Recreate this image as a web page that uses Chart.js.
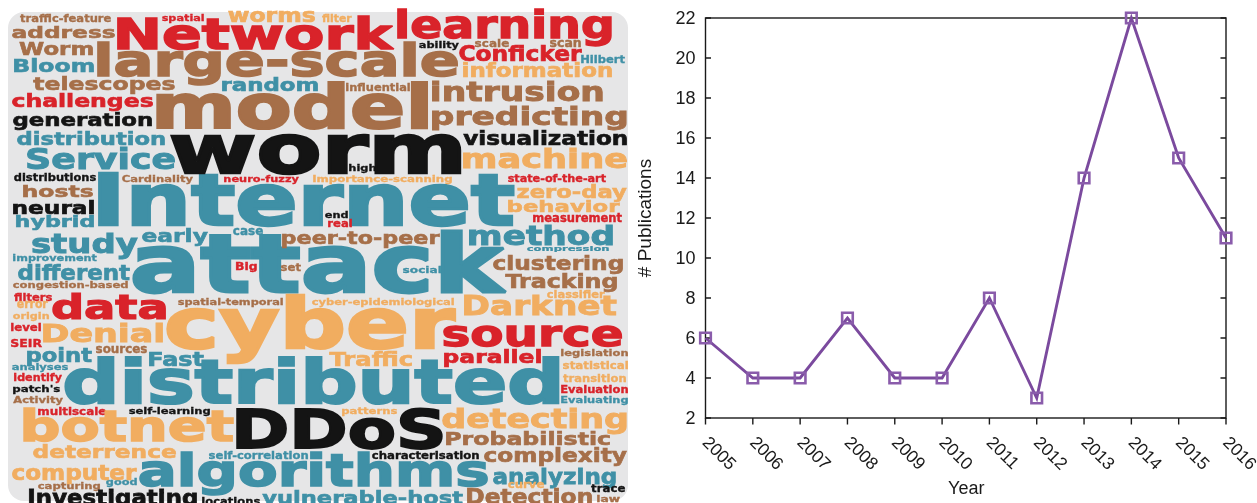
<!DOCTYPE html>
<html><head><meta charset="utf-8">
<script src="https://cdn.jsdelivr.net/npm/chart.js@4"></script>
<style>
html,body{margin:0;padding:0;background:#fff;overflow:hidden;width:1257px;height:503px}
#cloudBox{position:absolute;left:0;top:0;width:630px;height:503px}
#lineBox{position:absolute;left:630px;top:0;width:627px;height:503px}
canvas{filter:blur(0.45px)}
</style></head><body>
<div id="cloudBox"><canvas id="cloud"></canvas></div>
<div id="lineBox"><canvas id="line"></canvas></div>
<script>
// Line chart data
const years = ['2005','2006','2007','2008','2009','2010','2011','2012','2013','2014','2015','2016'];
const publications = [6,4,4,7,4,4,8,3,14,22,15,11];
const axisTitleX = 'Year';
const axisTitleY = '# Publications';

// Word cloud terms, grouped by colour
const tealWords = ['Bloom','random','distribution','Service','Internet','hybrid','study','early','case','method','compression','attack','improvement','different','social','point','Fast','analyses','distributed','Evaluating','self-correlation','algorithms','analyzing','good','vulnerable-host','Hilbert'];
const brownWords = ['traffic-feature','address','Worm','large-scale','scale','scan','telescopes','model','influential','intrusion','predicting','Cardinality','hosts','peer-to-peer','set','clustering','Tracking','congestion-based','spatial-temporal','sources','legislation','Activity','Probabilistic','complexity','capturing','Detection','law'];
const redWords = ['spatial','Network','learning','Conficker','challenges','neuro-fuzzy','state-of-the-art','measurement','real','Big','filters','data','level','source','SEIR','parallel','identify','Evaluation','multiscale'];
const orangeWords = ['worms','filter','information','machine','Importance-scanning','zero-day','behavior','classifier','error','cyber-epidemiological','Darknet','origin','cyber','Denial','Traffic','statistical','transition','patterns','botnet','detecting','deterrence','computer','curve'];
const blackWords = ['ability','generation','worm','visualization','high','distributions','neural','end','patch\'s','self-learning','DDoS','characterisation','trace','Investigating','locations'];

// Layout of the cloud: word -> left, top, right, bottom of its ink
const cloudLayout = {
 'traffic-feature':[20,14,111,22],'spatial':[162,14,204,23],'worms':[228,11,315,23],'address':[12,26,115,39],
 'Network':[117,15,395,50],'Worm':[19,42,93,55],'Bloom':[14,58,94,72],'large-scale':[97,42,458,87],
 'learning':[397,10,612,47],'filter':[322,14,352,22],'ability':[419,41,459,50],'scale':[475,39,509,47],
 'scan':[550,39,581,47],'Conficker':[459,45,582,62],'Hilbert':[581,55,625,63],'information':[463,63,612,78],
 'telescopes':[33,76,175,94],'random':[222,77,318,92],'challenges':[12,94,153,111],'model':[156,80,428,130],
 'influential':[346,82,410,91],'intrusion':[432,80,603,102],'predicting':[432,105,627,131],'generation':[13,113,152,130],
 'distribution':[17,131,165,146],'worm':[170,133,462,175],'visualization':[463,131,627,146],'Service':[27,147,175,170],
 'machine':[463,148,627,169],'high':[349,164,376,173],'distributions':[14,173,96,181],'Cardinality':[122,175,193,184],
 'neuro-fuzzy':[224,175,299,184],'Importance-scanning':[313,175,452,184],'state-of-the-art':[508,173,606,182],
 'hosts':[23,184,93,197],'neural':[13,200,94,214],'Internet':[98,172,515,227],'zero-day':[517,184,627,202],
 'behavior':[508,200,620,213],'measurement':[533,213,622,222],'hybrid':[16,215,94,231],'end':[325,211,348,218],
 'real':[328,218,352,227],'study':[32,232,138,259],'early':[142,229,208,246],'case':[233,227,263,235],
 'peer-to-peer':[282,232,440,248],'method':[469,224,613,246],'compression':[527,246,609,253],'attack':[132,229,508,294],
 'improvement':[13,254,97,263],'different':[18,264,130,281],'Big':[236,262,257,272],'set':[281,263,301,271],
 'social':[403,266,441,273],'clustering':[493,255,623,274],'Tracking':[505,273,617,292],'congestion-based':[13,282,128,290],
 'filters':[14,293,52,301],'classifier':[547,290,605,298],'error':[17,301,48,308],'data':[52,292,166,320],
 'spatial-temporal':[178,298,283,307],'cyber-epidemiological':[312,298,454,307],'Darknet':[464,295,617,316],
 'origin':[13,312,49,321],'cyber':[166,294,457,365],'level':[11,322,41,331],'Denial':[43,323,163,343],
 'source':[443,325,622,347],'SEIR':[11,338,42,347],'point':[27,347,92,367],'sources':[96,345,147,353],
 'parallel':[444,349,541,367],'legislation':[561,349,628,358],'Traffic':[329,352,412,367],'Fast':[149,352,204,367],
 'statistical':[563,361,628,369],'analyses':[12,364,68,372],'distributed':[64,356,560,405],'identify':[14,373,62,383],
 'transition':[563,374,626,382],'patch\'s':[13,385,60,394],'Evaluation':[561,385,628,393],'Activity':[13,396,63,405],
 'Evaluating':[561,396,628,405],'multiscale':[38,407,106,415],'self-learning':[129,407,210,416],'botnet':[23,408,234,443],
 'DDoS':[236,407,443,449],'patterns':[342,407,397,416],'detecting':[442,407,627,434],'Probabilistic':[446,431,610,446],
 'deterrence':[33,445,176,459],'self-correlation':[209,451,308,459],'characterisation':[372,451,479,459],
 'complexity':[484,447,627,466],'algorithms':[139,452,488,497],'computer':[12,465,137,485],'analyzing':[493,467,616,489],
 'capturing':[38,482,100,491],'good':[106,478,137,487],'curve':[508,482,544,488],'trace':[591,484,625,492],
 'Investigating':[29,488,197,510],'locations':[202,497,260,505],'vulnerable-host':[262,490,463,505],
 'Detection':[467,488,592,505],'law':[597,495,620,502]
};

const cloudGroups = [
 {words:tealWords,color:'#3f90a6'},{words:brownWords,color:'#a66f49'},{words:redWords,color:'#d9232a'},
 {words:orangeWords,color:'#f1ad60'},{words:blackWords,color:'#141414'}
];

const HEAVY = 3.5;   // extra stroke, in units of a 100px font
const wordPlugin = {
 id:'wordPlugin',
 beforeDatasetsDraw(chart){
  const c=chart.ctx,xs=chart.scales.x,ys=chart.scales.y;
  const l=xs.getPixelForValue(8),t=ys.getPixelForValue(12),r=xs.getPixelForValue(628),b=ys.getPixelForValue(501);
  c.save();c.fillStyle='#e6e6e7';c.beginPath();c.roundRect(l,t,r-l,b-t,16);c.fill();c.restore();
 },
 afterDatasetsDraw(chart){
  const c=chart.ctx,xs=chart.scales.x,ys=chart.scales.y;
  chart.data.datasets.forEach(ds=>{
   ds.data.forEach(p=>{
    const box=cloudLayout[p.word];
    const x0=xs.getPixelForValue(box[0]),x1=xs.getPixelForValue(box[2]);
    const y0=ys.getPixelForValue(box[1]),y1=ys.getPixelForValue(box[3]);
    c.save();
    c.font='bold 100px "DejaVu Sans"';
    c.textAlign='left';c.textBaseline='alphabetic';
    const m=c.measureText(p.word);
    const w=m.actualBoundingBoxRight+m.actualBoundingBoxLeft+HEAVY;
    const h=m.actualBoundingBoxAscent+m.actualBoundingBoxDescent+HEAVY;
    const sx=(x1-x0)/w,sy=(y1-y0)/h;
    c.translate(x0+(m.actualBoundingBoxLeft+HEAVY/2)*sx,y0+(m.actualBoundingBoxAscent+HEAVY/2)*sy);
    c.scale(sx,sy);
    c.fillStyle=ds.borderColor;c.strokeStyle=ds.borderColor;
    c.lineWidth=HEAVY;c.lineJoin='miter';c.miterLimit=2;
    c.fillText(p.word,0,0);
    c.strokeText(p.word,0,0);
    c.restore();
   });
  });
 }
};

new Chart(document.getElementById('cloud'),{
 type:'scatter',
 data:{datasets:cloudGroups.map(g=>({
  label:g.words[0],borderColor:g.color,backgroundColor:g.color,pointRadius:0,
  data:g.words.map(w=>({word:w,x:(cloudLayout[w][0]+cloudLayout[w][2])/2,y:(cloudLayout[w][1]+cloudLayout[w][3])/2}))
 }))},
 options:{responsive:true,maintainAspectRatio:false,animation:false,events:[],
  layout:{padding:0},
  plugins:{legend:{display:false},tooltip:{enabled:false}},
  scales:{x:{type:'linear',display:false,min:0,max:630},y:{type:'linear',display:false,reverse:true,min:0,max:503}}},
 plugins:[wordPlugin]
});

const INK='#1a1a1a';
const framePlugin = {
 id:'framePlugin',
 beforeDatasetsDraw(chart){
  const c=chart.ctx,a=chart.chartArea,xs=chart.scales.x,ys=chart.scales.y;
  c.save();
  c.strokeStyle=INK;c.lineWidth=1.4;
  c.strokeRect(a.left,a.top,a.right-a.left,a.bottom-a.top);
  c.beginPath();
  ys.ticks.forEach((t,i)=>{const y=ys.getPixelForTick(i);
   c.moveTo(a.left,y);c.lineTo(a.left+5.5,y);c.moveTo(a.right,y);c.lineTo(a.right-5.5,y);});
  xs.ticks.forEach((t,i)=>{const x=xs.getPixelForTick(i);
   c.moveTo(x,a.bottom);c.lineTo(x,a.bottom+6.5);});
  c.stroke();
  c.fillStyle=INK;c.font='18px "Liberation Sans"';
  c.textAlign='right';c.textBaseline='middle';
  ys.ticks.forEach((t,i)=>{c.fillText(String(t.value),a.left-10,ys.getPixelForTick(i)+1);});
  c.font='17.5px "Liberation Sans"';
  xs.ticks.forEach((t,i)=>{const x=xs.getPixelForTick(i);
   c.save();c.translate(x-0.5,440);c.rotate(Math.PI/4);c.textAlign='left';c.textBaseline='middle';
   c.fillText(years[i],0,0);c.restore();});
  c.textAlign='center';c.textBaseline='middle';
  c.font='18px "Liberation Sans"';
  c.fillText(axisTitleX,(a.left+a.right)/2+0.5,489);
  c.font='19px "Liberation Sans"';
  c.save();c.translate(16,218);c.rotate(-Math.PI/2);c.fillText(axisTitleY,0,0);c.restore();
  c.restore();
 }
};

new Chart(document.getElementById('line'),{
 type:'line',
 data:{labels:years,datasets:[{label:'Publications',data:publications,
  borderColor:'#7b4a9e',borderWidth:2.9,tension:0,fill:false,clip:false,
  pointStyle:'rect',pointRadius:7.5,pointBorderColor:'#8a5cab',pointBackgroundColor:'rgba(0,0,0,0)',pointBorderWidth:2.6}]},
 options:{responsive:true,maintainAspectRatio:false,animation:false,events:[],
  layout:{padding:{left:0,right:31,top:18,bottom:0}},
  plugins:{legend:{display:false},tooltip:{enabled:false}},
  scales:{
   x:{type:'category',offset:false,grid:{display:false},border:{display:false},
      ticks:{display:false,autoSkip:false},afterFit(s){s.height=85;}},
   y:{type:'linear',min:2,max:22,grid:{display:false},border:{display:false},
      ticks:{display:false,stepSize:2},afterFit(s){s.width=75.5;}}
  }},
 plugins:[framePlugin]
});
</script>
</body></html>
